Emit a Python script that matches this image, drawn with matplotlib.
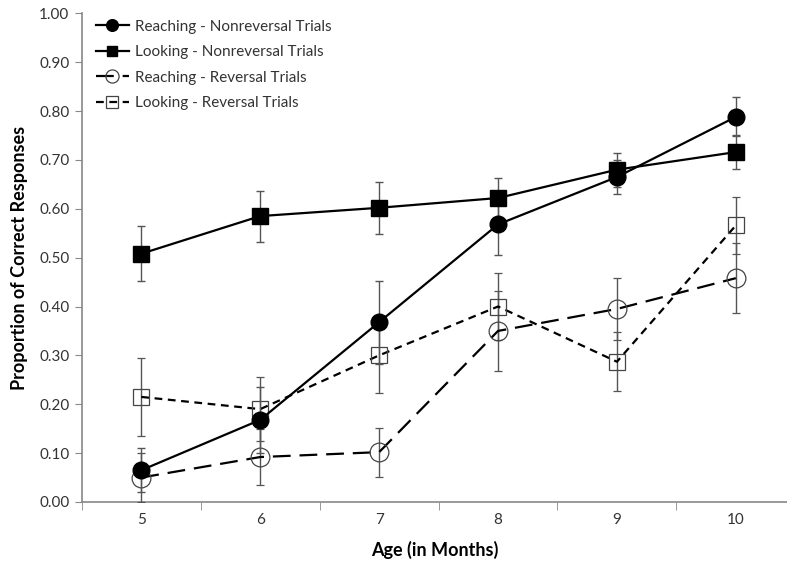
import numpy as np
import matplotlib.pyplot as plt
from matplotlib.ticker import FixedLocator

# 月齢
ages = [5, 6, 7, 8, 9, 10]

# 各条件の正答率と誤差
reach_nonrev = [0.065, 0.168, 0.368, 0.568, 0.665, 0.788]
reach_nonrev_err = [0.045, 0.068, 0.085, 0.062, 0.035, 0.040]
look_nonrev = [0.508, 0.585, 0.602, 0.622, 0.680, 0.716]
look_nonrev_err = [0.056, 0.052, 0.053, 0.040, 0.035, 0.034]
reach_rev = [0.050, 0.092, 0.102, 0.350, 0.395, 0.458]
reach_rev_err = [0.050, 0.057, 0.050, 0.082, 0.063, 0.072]
look_rev = [0.215, 0.190, 0.300, 0.400, 0.287, 0.566]
look_rev_err = [0.080, 0.065, 0.077, 0.068, 0.060, 0.058]

labels = ['Reaching - Nonreversal Trials', 'Looking - Nonreversal Trials',
          'Reaching - Reversal Trials', 'Looking - Reversal Trials']
y_ticks = np.round(np.arange(0, 1.01, 0.1), 2)

plt.rcParams['font.family'] = ['Lato', 'DejaVu Sans']

fig = plt.figure(figsize=(7.87, 5.77), dpi=100)
ax = fig.add_axes([0.104, 0.130, 0.896, 0.847])

ebar_kw = dict(ecolor='#555555', elinewidth=1, capsize=3, capthick=1)

h1 = ax.errorbar(ages, reach_nonrev, yerr=reach_nonrev_err, color='black', lw=1.6,
                 ls='-', marker='o', ms=12, mfc='black', mec='black',
                 zorder=4, **ebar_kw)
h2 = ax.errorbar(ages, look_nonrev, yerr=look_nonrev_err, color='black', lw=1.6,
                 ls='-', marker='s', ms=11, mfc='black', mec='black',
                 zorder=4, **ebar_kw)
h3 = ax.errorbar(ages, reach_rev, yerr=reach_rev_err, color='black', lw=1.6,
                 ls=(0, (8, 4)), marker='o', ms=13.5, mfc='none', mec='#444444',
                 mew=0.9, zorder=3, **ebar_kw)
h4 = ax.errorbar(ages, look_rev, yerr=look_rev_err, color='black', lw=1.6,
                 ls=(0, (3.5, 2.5)), marker='s', ms=12, mfc='none', mec='#444444',
                 mew=0.9, zorder=3, **ebar_kw)

ax.set_xlim(4.5, 10.43)
ax.set_ylim(0, 1.0)
ax.set_yticks(y_ticks)
ax.set_yticklabels([f'{v:.2f}' for v in y_ticks])
ax.set_xticks(ages)
ax.xaxis.set_minor_locator(FixedLocator(np.arange(4.5, 10.6, 1.0)))
ax.tick_params(axis='x', which='major', length=0, pad=8, labelsize=11,
               labelcolor='#333333')
ax.tick_params(axis='x', which='minor', length=6, direction='out',
               color='#888888')
ax.tick_params(axis='y', length=5, direction='out', color='#888888',
               labelsize=11, labelcolor='#333333', pad=4)

for s in ['top', 'right']:
    ax.spines[s].set_visible(False)
for s in ['left', 'bottom']:
    ax.spines[s].set_color('#888888')
    ax.spines[s].set_linewidth(1.2)

ax.set_xlabel('Age (in Months)', fontsize=13, fontweight='bold', labelpad=10)
ax.set_ylabel('Proportion of Correct Responses', fontsize=13,
              fontweight='bold', labelpad=8)

# 凡例には誤差棒を出さない
handles = [h[0] for h in (h1, h2, h3, h4)]
leg = ax.legend(handles, labels, loc='upper left', bbox_to_anchor=(0.0, 1.015),
                frameon=False, fontsize=11, handlelength=2.2,
                handletextpad=0.4, labelspacing=0.75, markerscale=0.7)
for t in leg.get_texts():
    t.set_color('#333333')

fig.savefig('out.png', dpi=100)
